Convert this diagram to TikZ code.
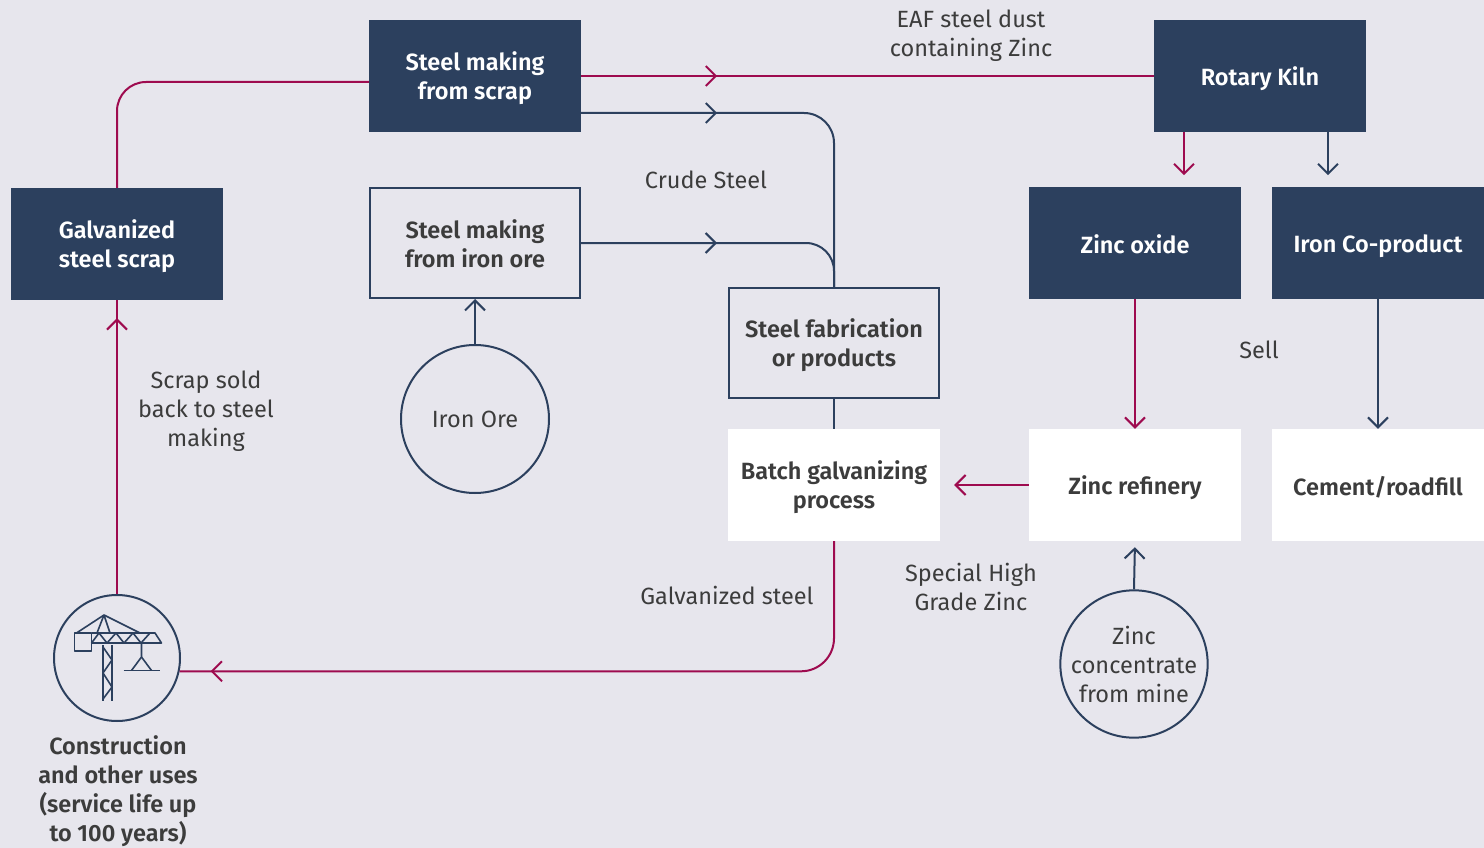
\documentclass[tikz,border=0pt]{standalone}
\usepackage{fontspec}
\setmainfont{Fira Sans}[BoldFont={Fira Sans SemiBold}]
\usetikzlibrary{arrows.meta,decorations.markings}
\definecolor{bg}{HTML}{E7E6ED}
\definecolor{navy}{HTML}{2C405E}
\definecolor{crim}{HTML}{9E0B4F}
\definecolor{txt}{HTML}{3C3C3C}
\newcommand\bsa{\rule{0pt}{24pt}}
\newcommand\bsb{\rule[-4pt]{0pt}{4pt}}
\begin{document}
\begin{tikzpicture}[x=1pt,y=-1pt,
  every node/.style={font=\fontsize{23.5}{29}\selectfont, align=center, inner sep=0pt, text=txt},
  boxtext/.style={font=\fontsize{23.5}{29}\selectfont\bfseries},
  fillbox/.style={rectangle, boxtext, fill=navy, text=white, minimum width=212pt, minimum height=112pt},
  outbox/.style={rectangle, boxtext, draw=navy, line width=2pt, minimum width=210pt, minimum height=110pt},
  whitebox/.style={rectangle, boxtext, fill=white, minimum width=212pt, minimum height=112pt},
  circ/.style={circle, draw=navy, line width=2pt},
  nv/.style={color=navy, line width=2pt},
  cr/.style={color=crim, line width=2pt},
  >={Straight Barb[length=10pt,width=20pt]},
  amark/.style={postaction={decorate}, decoration={markings, mark=at position #1 with {\arrow{>}}}},
]
\fill[bg] (0,0) rectangle (1484,848);
\useasboundingbox (0,0) rectangle (1484,848);
\clip (0,0) rectangle (1484,848);

% boxes
\node[fillbox] (scrap) at (475,76) {\bsa Steel making\\from scrap\bsb};
\node[fillbox] (kiln) at (1260,76) {\bsa Rotary Kiln\bsb};
\node[fillbox] (galv) at (117,244) {\bsa Galvanized\\steel scrap\bsb};
\node[outbox] (orebox) at (475,243) {\bsa Steel making\\from iron ore\bsb};
\node[fillbox] (zincox) at (1135,243) {\bsa Zinc oxide\bsb};
\node[fillbox] (ironco) at (1378,243) {\bsa Iron Co-product\bsb};
\node[outbox] (fab) at (834,343) {\bsa Steel fabrication\\or products\bsb};
\node[whitebox] (batch) at (834,485) {\bsa Batch galvanizing\\process\bsb};
\node[whitebox] (refin) at (1135,485) {\bsa Zinc refinery\bsb};
\node[whitebox] (cement) at (1378,485) {\bsa Cement/roadfill\bsb};

% circles
\node[circ, minimum size=148pt] (ore) at (475,419) {Iron Ore};
\node[circ, minimum size=146pt] (conc) at (1134,664) {Zinc\\concentrate\\from mine};
\node[circ, minimum size=126pt] (crane) at (117,658) {};

% labels
\node (lbeaf) at (971,36) {EAF steel dust\\containing Zinc};
\node (lbcrude) at (706,180) {Crude Steel};
\node (lbsell) at (1259,350) {Sell};
\node (lbscrap) at (206,411) {Scrap sold\\back to steel\\making};
\node (lbgalv) at (727,595) {Galvanized steel};
\node (lbshg) at (971,587) {Special High\\Grade Zinc};
\node[font=\fontsize{23.5}{29}\selectfont\bfseries] (lbcons) at (118,791) {Construction\\and other uses\\(service life up\\to 100 years)};

% connectors
\draw[cr, rounded corners=29] (galv.north) |- ([yshift=-6pt]scrap.west);
\draw[cr, amark=136pt] (scrap.east) -- (kiln.west);
\draw[nv, rounded corners=30, amark=136pt] ([yshift=-37pt]scrap.east) -| (fab.north);
\draw[nv, rounded corners=28, amark=136pt] (orebox.east) -| (fab.north);
\draw[nv, ->] (ore.north) -- (orebox.south);
\draw[nv] (fab.south) -- (batch.north);
\draw[cr, rounded corners=33, amark=-31pt] (batch.south) |- (crane.-12.6);
\draw[cr, amark=-18pt] (crane.north) -- (galv.south);
\draw[cr, ->] ([xshift=-76pt]kiln.south) -- ++(0,43);
\draw[nv, ->] ([xshift=68pt]kiln.south) -- ++(0,43);
\draw[cr, ->] (zincox.south) -- (refin.north);
\draw[nv, ->] (ironco.south) -- (cement.north);
\draw[cr, ->, shorten >=14pt] (refin.west) -- (batch.east);
\draw[nv, ->, shorten >=6pt] (conc.north) -- (refin.south);

% crane icon
\begin{scope}[navy, line width=1.6pt, line join=round]
  \draw (103,645) -- (103,701);
  \draw (112,645) -- (112,701);
  \draw (103,647) -- (112,660) -- (103,673) -- (112,687) -- (103,699);
  \draw (74.5,633) rectangle (91.5,651);
  \draw (91.5,633) -- (155,633) -- (161.5,643) -- (91.5,643);
  \draw (91.5,643) -- (99,633) -- (107,643) -- (116,633) -- (124,643) -- (133,633) -- (141,643) -- (150,633);
  \draw (76.5,633) -- (104,615) -- (140,633);
  \draw (104,615) -- (110,633);
  \draw (104,615) -- (97,633);
  \draw (141.5,643) -- (141.5,657) -- (131.5,670.5);
  \draw (141.5,657) -- (151.5,670.5);
  \draw (123.5,670.5) -- (160,670.5);
\end{scope}
\end{tikzpicture}
\end{document}
